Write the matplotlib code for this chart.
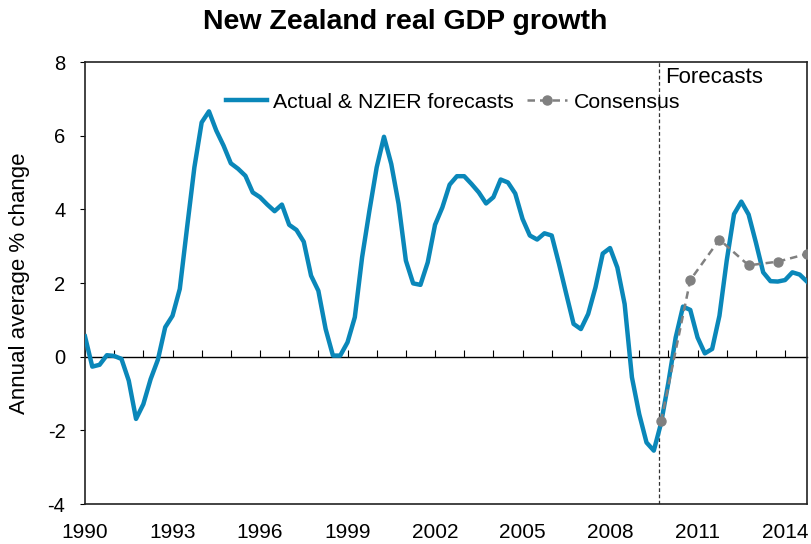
import matplotlib.pyplot as plt
import numpy as np

plt.rcParams["font.family"] = ["Liberation Sans", "DejaVu Sans"]
plt.rcParams["axes.unicode_minus"] = False

# quarterly annual-average GDP growth, 1990Q1 .. 2014Q4
START_YEAR = 1990
gdp = [
    0.55, -0.27, -0.22, 0.04, 0.02, -0.06, -0.65, -1.69, -1.29, -0.61,
    -0.08, 0.80, 1.11, 1.84, 3.51, 5.14, 6.36, 6.66, 6.14, 5.73,
    5.25, 5.10, 4.91, 4.46, 4.33, 4.13, 3.95, 4.13, 3.58, 3.44,
    3.12, 2.20, 1.79, 0.75, 0.03, 0.03, 0.39, 1.07, 2.70, 3.96,
    5.14, 5.97, 5.23, 4.15, 2.61, 1.99, 1.95, 2.56, 3.58, 4.05,
    4.67, 4.90, 4.90, 4.69, 4.46, 4.16, 4.33, 4.81, 4.73, 4.43,
    3.74, 3.29, 3.18, 3.35, 3.29, 2.52, 1.70, 0.89, 0.75, 1.16,
    1.88, 2.80, 2.95, 2.42, 1.43, -0.56, -1.56, -2.33, -2.55, -1.80,
    -0.70, 0.52, 1.36, 1.27, 0.52, 0.09, 0.21, 1.11, 2.61, 3.87,
    4.21, 3.86, 3.10, 2.29, 2.05, 2.04, 2.08, 2.29, 2.23, 2.04,
]
cons_years = [2009.75, 2010.75, 2011.75, 2012.75, 2013.75, 2014.75]
consensus = [-1.75, 2.08, 3.18, 2.48, 2.58, 2.79]
forecast_start = 2009.68
year_labels = list(range(1990, 2015, 3))

t = START_YEAR + np.arange(len(gdp)) / 4

fig = plt.figure(figsize=(8.11, 5.44), dpi=100)
ax = fig.add_axes([0.1048, 0.0735, 0.8902, 0.8125])

ax.plot(t, gdp, color="#0A87B9", lw=3.2, solid_joinstyle="round",
        label="Actual & NZIER forecasts", zorder=3)
ax.plot(cons_years, consensus, color="#808080", lw=1.8, ls=(0, (3, 2)),
        marker="o", ms=6.5, label="Consensus", zorder=4)

ax.axvline(forecast_start, color="#333333", lw=0.9, ls=(0, (3, 2)), zorder=2)
ax.text(forecast_start + 0.2, 7.57, "Forecasts", fontsize=16,
        ha="left", va="center")

ax.set_xlim(1990, 2014.75)
ax.set_ylim(-4, 8)
ax.set_yticks(range(-4, 9, 2))
ax.set_xticks(year_labels)
ax.tick_params(axis="y", direction="out", length=3.6, labelsize=14.5, pad=10.5)
ax.tick_params(axis="x", length=0, labelsize=15, pad=14)
for sp in ax.spines.values():
    sp.set_color("#222222")
    sp.set_linewidth(1.2)

# zero line with yearly tick marks
zero = ax.secondary_xaxis(1 / 3)
zero.set_xticks(range(1990, 2015))
zero.tick_params(direction="in", length=5, labelbottom=False, color="black")
zero.spines["bottom"].set_linewidth(1.0)

fig.text(20 / 811, 0.479, "Annual average % change", fontsize=16,
         rotation=90, ha="center", va="center")
fig.suptitle("New Zealand real GDP growth", fontsize=20.5, fontweight="bold",
             y=0.983)

ax.legend(loc="center", bbox_to_anchor=(0.51, 0.909), ncol=2, frameon=False,
          fontsize=15.3, handlelength=1.9, handletextpad=0.3, columnspacing=0.6)

fig.savefig("out.png", dpi=100)
